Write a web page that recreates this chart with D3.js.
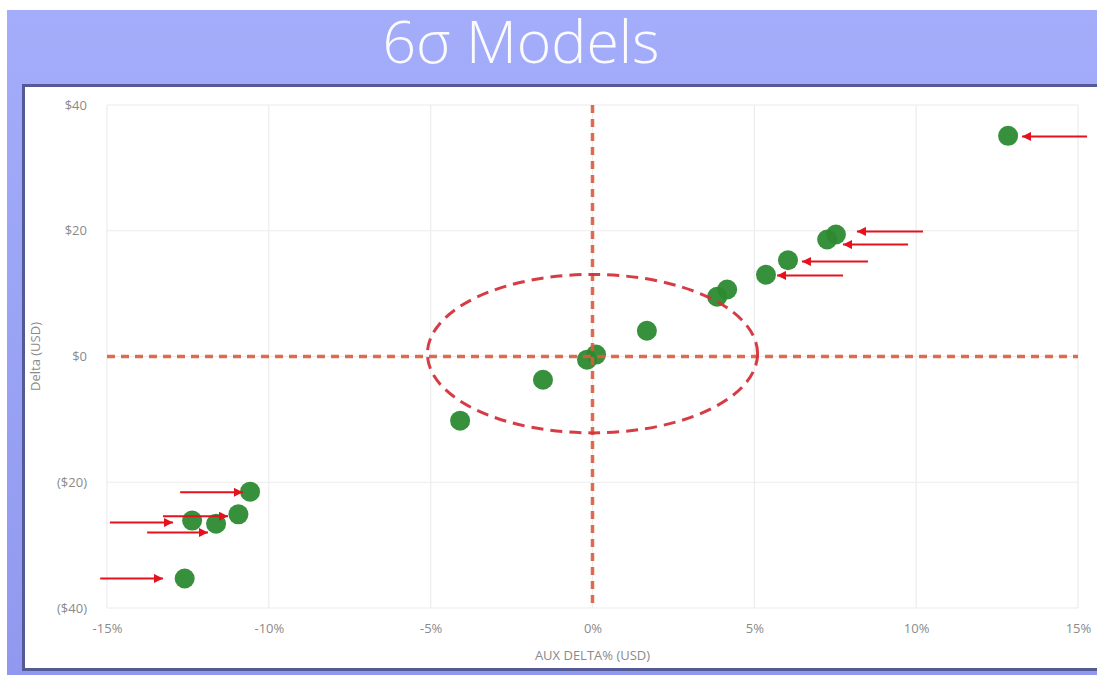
<!DOCTYPE html>
<html>
<head>
<meta charset="utf-8">
<script src="https://cdn.jsdelivr.net/npm/d3@7"></script>
<style>
  html, body { margin: 0; padding: 0; background: #fff; }
  svg { display: block; }
</style>
</head>
<body>
<svg id="chart" width="1097" height="675"></svg>
<script>
// Model deviations: AUX delta % vs. delta in USD
const auxDeltaPct = [12.84, 7.52, 7.25, 6.04, 5.36, 4.16, 3.85, 1.68, 0.11, -0.17, -1.53, -4.09, -10.58, -10.94, -11.63, -12.37, -12.6];
const deltaUsd    = [35.1, 19.4, 18.6, 15.3, 13.0, 10.65, 9.5, 4.1, 0.3, -0.5, -3.7, -10.2, -21.5, -25.1, -26.6, -26.1, -35.3];

// Call-out arrows: tail x, head x, y (data units)
const arrowTailX = [15.28, 10.21, 9.75, 8.51, 7.74, -12.74, -14.91, -13.76, -15.21, -13.27];
const arrowHeadX = [13.27, 8.17, 7.74, 6.47, 5.70, -10.80, -12.96, -11.88, -13.27, -11.26];
const arrowY     = [35.0, 19.9, 17.8, 15.1, 12.9, -21.6, -26.4, -28.0, -35.3, -25.4];

// Central band ellipse (data units)
const bandCenter = [0, 0.45];
const bandRadius = [5.1, 12.6];

const xTicks = [-15, -10, -5, 0, 5, 10, 15];
const yTicks = [40, 20, 0, -20, -40];

const titleText = "6\u03C3 Models";
const xTitle = "AUX DELTA% (USD)";
const yTitle = "Delta (USD)";

const svg = d3.select("#chart");

// Header band and panel
const defs = svg.append("defs");
const grad = defs.append("linearGradient").attr("id", "band").attr("x1", 0).attr("y1", 0).attr("x2", 0).attr("y2", 1);
grad.append("stop").attr("offset", "0%").attr("stop-color", "#a3adfa");
grad.append("stop").attr("offset", "100%").attr("stop-color", "#9099ef");

svg.append("rect").attr("x", 7).attr("y", 10).attr("width", 1090).attr("height", 665).attr("fill", "url(#band)");
svg.append("rect").attr("x", 23.5).attr("y", 85.5).attr("width", 1090).attr("height", 584)
  .attr("fill", "#fff").attr("stroke", "#545a96").attr("stroke-width", 3);

svg.append("text")
  .attr("x", 521).attr("y", 63)
  .attr("text-anchor", "middle")
  .attr("font-family", "'Open Sans', sans-serif")
  .attr("font-weight", 200)
  .attr("font-size", 58)
  .attr("fill", "#fbfbff")
  .attr("textLength", 277)
  .attr("lengthAdjust", "spacingAndGlyphs")
  .text(titleText);

const x = d3.scaleLinear().domain([-15, 15]).range([107, 1078]);
const y = d3.scaleLinear().domain([-40, 40]).range([608, 105]);

const fmtPct = d => (d < 0 ? "-" : "") + Math.abs(d) + "%";
const fmtUsd = d => d < 0 ? "($" + Math.abs(d) + ")" : "$" + d;

// Gridlines
const grid = svg.append("g");
grid.selectAll("line.vx").data(xTicks).join("line")
  .attr("x1", d => x(d)).attr("x2", d => x(d))
  .attr("y1", y(40)).attr("y2", y(-40))
  .attr("stroke", "#ececef").attr("stroke-width", 1.2);
grid.selectAll("line.hy").data(yTicks).join("line")
  .attr("y1", d => y(d)).attr("y2", d => y(d))
  .attr("x1", x(-15)).attr("x2", x(15))
  .attr("stroke", "#ececef").attr("stroke-width", 1.2);

// Axes (labels only)
const xAxis = svg.append("g").attr("transform", `translate(0,${y(-40) + 13})`)
  .call(d3.axisBottom(x).tickValues(xTicks).tickFormat(fmtPct).tickSize(0));
const yAxis = svg.append("g").attr("transform", `translate(${x(-15) - 17},0)`)
  .call(d3.axisLeft(y).tickValues(yTicks).tickFormat(fmtUsd).tickSize(0));
[xAxis, yAxis].forEach(a => {
  a.select(".domain").remove();
  a.selectAll("text").attr("fill", "#8a8a8a").attr("font-family", "'Open Sans', sans-serif").attr("font-size", 13);
});

svg.append("text")
  .attr("x", x(0)).attr("y", 660)
  .attr("text-anchor", "middle")
  .attr("font-family", "'Open Sans', sans-serif").attr("font-size", 13)
  .attr("fill", "#8a8a8a").text(xTitle);
svg.append("text")
  .attr("transform", `translate(40,${y(0)}) rotate(-90)`)
  .attr("text-anchor", "middle")
  .attr("font-family", "'Open Sans', sans-serif").attr("font-size", 13)
  .attr("fill", "#8a8a8a").text(yTitle);

// Points
const pts = auxDeltaPct.map((v, i) => ({ x: v, y: deltaUsd[i] }));
svg.append("g").selectAll("circle").data(pts).join("circle")
  .attr("cx", d => x(d.x)).attr("cy", d => y(d.y)).attr("r", 10)
  .attr("fill", "#2c8a30").attr("fill-opacity", 0.95);

// Zero reference lines
const refColor = "#dc5c3e";
svg.append("line")
  .attr("x1", x(-15)).attr("x2", x(15)).attr("y1", y(0)).attr("y2", y(0))
  .attr("stroke", refColor).attr("stroke-width", 3.5).attr("stroke-dasharray", "8,6").attr("opacity", 0.9);
svg.append("line")
  .attr("x1", x(0)).attr("x2", x(0)).attr("y1", y(40)).attr("y2", y(-40))
  .attr("stroke", refColor).attr("stroke-width", 3.5).attr("stroke-dasharray", "8,6").attr("opacity", 0.9);

// Band ellipse
svg.append("ellipse")
  .attr("cx", x(bandCenter[0])).attr("cy", y(bandCenter[1]))
  .attr("rx", x(bandRadius[0]) - x(0)).attr("ry", y(0) - y(bandRadius[1]))
  .attr("fill", "none").attr("stroke", "#d4323a").attr("stroke-width", 3)
  .attr("stroke-dasharray", "12,7").attr("opacity", 0.95);

// Arrows
defs.append("marker").attr("id", "head")
  .attr("viewBox", "0 0 10 10").attr("refX", 10).attr("refY", 5)
  .attr("markerWidth", 11).attr("markerHeight", 9).attr("markerUnits", "userSpaceOnUse")
  .attr("orient", "auto")
  .append("path").attr("d", "M0,0 L10,5 L0,10 Z").attr("fill", "#e3121c");

const arrows = arrowTailX.map((t, i) => ({ x0: t, x1: arrowHeadX[i], y: arrowY[i] }));
svg.append("g").selectAll("line").data(arrows).join("line")
  .attr("x1", d => x(d.x0)).attr("x2", d => x(d.x1))
  .attr("y1", d => y(d.y)).attr("y2", d => y(d.y))
  .attr("stroke", "#e3121c").attr("stroke-width", 2)
  .attr("marker-end", "url(#head)");
</script>
</body>
</html>
